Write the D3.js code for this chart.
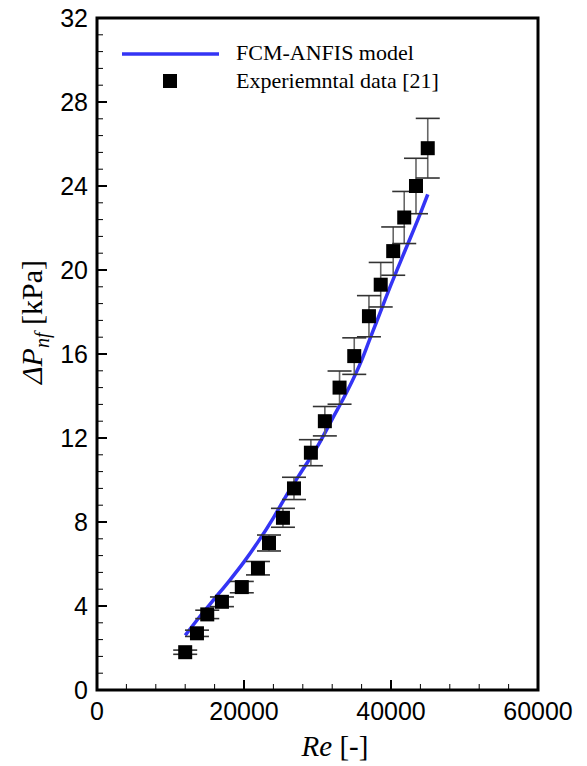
<!DOCTYPE html>
<html>
<head>
<meta charset="utf-8">
<script src="https://cdn.jsdelivr.net/npm/d3@7"></script>
<style>
  body { margin: 0; background: #fff; }
  svg { display: block; }
  .serif, .serif tspan { font-family: "Liberation Serif", "Times New Roman", Times, serif; }
  .sans { font-family: "Liberation Sans", Arial, Helvetica, sans-serif; }
</style>
</head>
<body>
<div id="chart"></div>
<script>
// experimental data
const expRe = [12000, 13600, 15000, 17000, 19700, 21900, 23400, 25300, 26800, 29100, 31000, 33000, 35000, 37000, 38600, 40300, 41800, 43400, 45000];
const expDp = [1.8, 2.7, 3.6, 4.2, 4.9, 5.8, 7.0, 8.2, 9.6, 11.3, 12.8, 14.4, 15.9, 17.8, 19.3, 20.9, 22.5, 24.0, 25.8];
const expErr = [0.1, 0.15, 0.2, 0.23, 0.27, 0.32, 0.38, 0.45, 0.53, 0.62, 0.7, 0.79, 0.87, 0.98, 1.06, 1.15, 1.24, 1.32, 1.42];

// FCM-ANFIS model curve
const modelRe = [12000, 14000, 16000, 18000, 20000, 22000, 24000, 26000, 28000, 30000, 32000, 34000, 36000, 37000, 38000, 40000, 42000, 44000, 45000];
const modelDp = [2.6, 3.5, 4.35, 5.2, 6.1, 7.1, 8.2, 9.4, 10.5, 11.6, 12.9, 14.2, 15.7, 16.6, 17.5, 19.3, 21.0, 22.7, 23.6];

const xTicks = [0, 20000, 40000, 60000];
const yTicks = [0, 4, 8, 12, 16, 20, 24, 28, 32];

const width = 587, height = 766;
const margin = { top: 18, right: 49, bottom: 76, left: 97 };

const svg = d3.select("#chart").append("svg").attr("width", width).attr("height", height);

const x = d3.scaleLinear().domain([0, 60000]).range([margin.left, width - margin.right]);
const y = d3.scaleLinear().domain([0, 32]).range([height - margin.bottom, margin.top]);

// minor ticks (inward)
const xMinor = d3.range(0, 60001, 4000);
const yMinor = d3.range(0, 32.01, 0.8);

const axisG = svg.append("g");
axisG.selectAll(".xminor").data(xMinor).enter().append("line")
    .attr("x1", d => x(d)).attr("x2", d => x(d))
    .attr("y1", y(0)).attr("y2", y(0) - 6)
    .attr("stroke", "#000").attr("stroke-width", 1);
axisG.selectAll(".yminor").data(yMinor).enter().append("line")
    .attr("x1", x(0)).attr("x2", x(0) + 6)
    .attr("y1", d => y(d)).attr("y2", d => y(d))
    .attr("stroke", "#000").attr("stroke-width", 1);
// major ticks
axisG.selectAll(".xmajor").data(xTicks).enter().append("line")
    .attr("x1", d => x(d)).attr("x2", d => x(d))
    .attr("y1", y(0)).attr("y2", y(0) - 10)
    .attr("stroke", "#000").attr("stroke-width", 2);
axisG.selectAll(".ymajor").data(yTicks).enter().append("line")
    .attr("x1", x(0)).attr("x2", x(0) + 10)
    .attr("y1", d => y(d)).attr("y2", d => y(d))
    .attr("stroke", "#000").attr("stroke-width", 2);

// frame
svg.append("rect")
    .attr("x", x(0)).attr("y", y(32))
    .attr("width", x(60000) - x(0)).attr("height", y(0) - y(32))
    .attr("fill", "none").attr("stroke", "#000").attr("stroke-width", 3);

// tick labels
svg.selectAll(".xlab").data(xTicks).enter().append("text")
    .attr("class", "sans")
    .attr("x", d => x(d)).attr("y", y(0) + 30)
    .attr("text-anchor", "middle").attr("font-size", 25)
    .text(d => d);
svg.selectAll(".ylab").data(yTicks).enter().append("text")
    .attr("class", "sans")
    .attr("x", x(0) - 9).attr("y", d => y(d) + 9)
    .attr("text-anchor", "end").attr("font-size", 25)
    .text(d => d);

// axis titles
const xt = svg.append("text").attr("class", "serif")
    .attr("x", 335).attr("y", 756)
    .attr("text-anchor", "middle").attr("font-size", 29);
xt.append("tspan").attr("font-style", "italic").text("Re");
xt.append("tspan").text(" [-]");

const yt = svg.append("text").attr("class", "serif")
    .attr("transform", "translate(42,322) rotate(-90)")
    .attr("text-anchor", "middle").attr("font-size", 30);
yt.append("tspan").attr("font-style", "italic").text("\u0394P");
yt.append("tspan").attr("font-style", "italic").attr("font-size", 20).attr("dy", 7).text("nf");
yt.append("tspan").attr("dy", -7).text(" [kPa]");

// model line
const modelData = modelRe.map((r, i) => ({ re: r, dp: modelDp[i] }));
const line = d3.line().x(d => x(d.re)).y(d => y(d.dp)).curve(d3.curveMonotoneX);
svg.append("path").datum(modelData)
    .attr("d", line)
    .attr("fill", "none").attr("stroke", "#3434f5").attr("stroke-width", 3.5);

// experimental points with error bars
const expData = expRe.map((r, i) => ({ re: r, dp: expDp[i], err: expErr[i] }));
const capW = 12;
const eb = svg.append("g").attr("stroke", "#333").attr("stroke-width", 1.6);
eb.selectAll(".ev").data(expData).enter().append("line")
    .attr("x1", d => x(d.re)).attr("x2", d => x(d.re))
    .attr("y1", d => y(d.dp - d.err)).attr("y2", d => y(d.dp + d.err))
    .attr("stroke", "#666");
eb.selectAll(".et").data(expData).enter().append("line")
    .attr("x1", d => x(d.re) - capW).attr("x2", d => x(d.re) + capW)
    .attr("y1", d => y(d.dp + d.err)).attr("y2", d => y(d.dp + d.err));
eb.selectAll(".eb").data(expData).enter().append("line")
    .attr("x1", d => x(d.re) - capW).attr("x2", d => x(d.re) + capW)
    .attr("y1", d => y(d.dp - d.err)).attr("y2", d => y(d.dp - d.err));

const sq = 14;
svg.selectAll(".pt").data(expData).enter().append("rect")
    .attr("x", d => x(d.re) - sq / 2).attr("y", d => y(d.dp) - sq / 2)
    .attr("width", sq).attr("height", sq).attr("fill", "#000");

// legend
const lg = svg.append("g");
lg.append("line").attr("x1", 122).attr("x2", 219).attr("y1", 54).attr("y2", 54)
    .attr("stroke", "#3434f5").attr("stroke-width", 3.5);
lg.append("text").attr("class", "serif").attr("x", 236).attr("y", 60)
    .attr("font-size", 22)
    .text("FCM-ANFIS model");
lg.append("rect").attr("x", 163).attr("y", 74).attr("width", sq).attr("height", sq).attr("fill", "#000");
lg.append("text").attr("class", "serif").attr("x", 236).attr("y", 88)
    .attr("font-size", 22)
    .text("Experiemntal data [21]");
</script>
</body>
</html>
